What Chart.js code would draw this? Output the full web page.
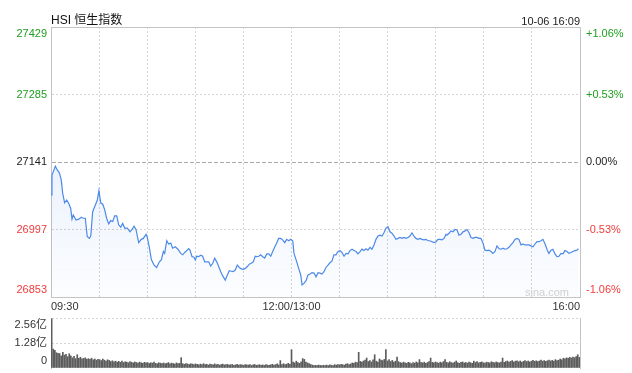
<!DOCTYPE html>
<html>
<head>
<meta charset="utf-8">
<script src="https://cdn.jsdelivr.net/npm/chart.js@4.4.0/dist/chart.umd.min.js"></script>
<style>
  body { margin: 0; background: #fff; }
  #wrap { position: relative; width: 632px; height: 373px; overflow: hidden; font-family: "Liberation Sans", "Noto Sans CJK SC", sans-serif; }
  #title { position: absolute; left: 51px; top: 12px; font-size: 12px; line-height: 16px; color: #111; }
  #stamp { position: absolute; right: 52px; top: 14px; font-size: 11px; line-height: 14px; color: #222; }
  #mark { position: absolute; right: 63px; top: 286px; font-size: 11px; line-height: 13px; color: #d0d0d0; }
  #main { position: absolute; left: 0; top: 0; }
  #vol { position: absolute; left: 0; top: 312px; }
</style>
</head>
<body>
<div id="wrap">
  <canvas id="main" width="632" height="312"></canvas>
  <canvas id="vol" width="632" height="61"></canvas>
  <div id="title">HSI 恒生指数</div>
  <div id="stamp">10-06 16:09</div>
  <div id="mark">sina.com</div>
</div>
<script>
// minutes since 09:30 (lunch break removed), index level
const minutes = [
  0, 0.6, 1.4, 2.7, 3.9, 5.2, 6.4, 7.3, 8.5, 9.8,
  11.0, 12.3, 13.1, 13.9, 15.6, 17.3, 18.9, 20.1, 21.4, 22.6,
  23.9, 24.8, 26.0, 27.3, 28.9, 29.9, 31.0, 32.3, 33.5, 34.7,
  36.0, 37.2, 38.5, 39.7, 41.0, 42.2, 43.5, 44.7, 46.0, 47.6,
  49.3, 50.5, 51.8, 53.0, 54.7, 56.3, 57.6, 59.3, 60.1, 61.3,
  62.6, 64.3, 65.9, 67.6, 68.8, 70.1, 70.9, 72.2, 73.4, 74.7,
  75.9, 77.5, 79.2, 80.9, 82.2, 83.4, 84.6, 85.9, 86.7, 88.0,
  89.2, 90.0, 90.9, 92.1, 93.4, 94.6, 95.9, 97.1, 98.4, 99.6,
  100.9, 102.1, 103.4, 104.6, 105.9, 107.1, 108.7, 110.0, 111.2, 112.5,
  113.7, 115.0, 116.2, 117.5, 118.7, 120.0, 121.2, 122.5, 123.7, 124.9,
  126.2, 127.4, 128.3, 129.6, 130.8, 132.1, 133.3, 134.6, 135.8, 137.1,
  138.3, 139.5, 140.8, 142.0, 143.3, 144.5, 145.8, 147.0, 148.3, 149.5,
  150.8, 151.6, 153.3, 154.5, 155.8, 156.6, 157.8, 159.1, 160.3, 161.6,
  162.8, 164.1, 165.3, 166.6, 167.8, 169.0, 170.3, 171.5, 172.8, 174.0,
  175.3, 176.5, 177.8, 179.0, 180.3, 181.5, 182.8, 184.0, 185.3, 186.5,
  187.8, 189.0, 190.3, 191.5, 192.8, 194.0, 195.2, 196.5, 197.7, 199.0,
  200.2, 201.5, 202.7, 204.0, 205.2, 206.5, 207.7, 209.0, 210.2, 211.5,
  212.7, 214.0, 215.2, 216.5, 217.7, 219.0, 220.2, 221.5, 222.7, 223.9,
  225.2, 226.4, 227.7, 228.9, 230.2, 231.4, 232.7, 233.9, 235.2, 236.4,
  237.7, 238.9, 240.2, 241.4, 242.7, 243.9, 245.2, 246.4, 247.0, 248.3,
  249.5, 250.8, 252.0, 253.3, 254.5, 255.8, 257.0, 258.3, 259.5, 260.8,
  262.0, 263.3, 264.5, 265.7, 267.0, 268.2, 269.5, 270.7, 272.0, 273.2,
  274.5, 275.7, 277.0, 278.2, 279.5, 280.7, 282.0, 283.2, 284.4, 285.7,
  286.9, 288.2, 289.4, 290.7, 291.9, 293.2, 294.4, 295.7, 296.9, 298.2,
  299.4, 300.7, 301.9, 303.2, 304.4, 305.7, 306.9, 308.2, 309.4, 310.6,
  311.9, 313.1, 314.4, 315.6, 316.9, 318.1, 319.4, 320.6, 321.9, 323.1,
  324.4, 325.6, 326.9, 328.1, 329.0
];
const prices = [
  27071, 27113, 27120, 27132, 27124, 27118, 27103, 27074, 27054, 27060,
  27053, 27042, 27019, 27028, 27017, 27019, 27023, 27021, 27021, 26982,
  26978, 26983, 27035, 27046, 27060, 27080, 27054, 27051, 27039, 27021,
  27009, 27016, 27014, 27026, 27026, 27007, 27002, 27010, 27000, 27000,
  26992, 26997, 27004, 26997, 26969, 26976, 26978, 26987, 26980, 26960,
  26933, 26921, 26916, 26928, 26932, 26950, 26946, 26973, 26966, 26968,
  26957, 26960, 26955, 26946, 26943, 26948, 26952, 26956, 26953, 26939,
  26938, 26932, 26940, 26939, 26942, 26940, 26928, 26928, 26928, 26919,
  26925, 26936, 26928, 26918, 26907, 26898, 26889, 26900, 26909, 26908,
  26907, 26911, 26921, 26916, 26913, 26912, 26914, 26918, 26923, 26925,
  26928, 26940, 26939, 26940, 26943, 26939, 26936, 26945, 26945, 26940,
  26950, 26959, 26968, 26978, 26978, 26975, 26969, 26976, 26973, 26976,
  26973, 26946, 26928, 26914, 26900, 26879, 26882, 26888, 26900, 26902,
  26905, 26904, 26896, 26905, 26904, 26902, 26907, 26916, 26921, 26926,
  26930, 26943, 26943, 26950, 26952, 26948, 26940, 26946, 26945, 26952,
  26955, 26952, 26950, 26945, 26950, 26955, 26952, 26956, 26953, 26959,
  26955, 26964, 26976, 26983, 26985, 26983, 26990, 27000, 27003, 26992,
  26989, 26983, 26976, 26978, 26980, 26978, 26980, 26978, 26980, 26983,
  26990, 26983, 26978, 26976, 26978, 26976, 26975, 26976, 26973, 26973,
  26971, 26969, 26971, 26976, 26976, 26975, 26978, 26987, 26985, 26989,
  26994, 26992, 26997, 26996, 26985, 26987, 26992, 26994, 26997, 26990,
  26980, 26978, 26980, 26980, 26978, 26978, 26968, 26953, 26952, 26953,
  26950, 26946, 26950, 26962, 26956, 26955, 26957, 26955, 26956, 26959,
  26964, 26969, 26976, 26978, 26976, 26964, 26966, 26964, 26964, 26964,
  26962, 26960, 26966, 26971, 26971, 26973, 26976, 26966, 26955, 26946,
  26953, 26955, 26945, 26939, 26940, 26946, 26945, 26952, 26950, 26946,
  26948, 26950, 26952, 26953, 26956
];
// per-minute turnover, in 亿 (index = minute)
const volumes = [
  2.52, 0.97, 0.90, 0.78, 0.75, 0.74, 0.62, 0.80, 0.66, 0.70,
  0.58, 0.73, 0.62, 0.52, 0.60, 0.48, 0.68, 0.50, 0.55, 0.47,
  0.49, 0.52, 0.45, 0.48, 0.44, 0.50, 0.42, 0.46, 0.40, 0.45,
  0.43, 0.38, 0.46, 0.40, 0.36, 0.42, 0.39, 0.33, 0.37, 0.31,
  0.35, 0.30, 0.34, 0.29, 0.36, 0.28, 0.32, 0.30, 0.27, 0.33,
  0.29, 0.26, 0.31, 0.28, 0.25, 0.30, 0.27, 0.24, 0.29, 0.26,
  0.28, 0.23, 0.27, 0.25, 0.30, 0.24, 0.22, 0.27, 0.25, 0.23,
  0.26, 0.22, 0.24, 0.28, 0.21, 0.25, 0.23, 0.20, 0.26, 0.22,
  0.24, 0.53, 0.22, 0.19, 0.23, 0.21, 0.18, 0.22, 0.20, 0.17,
  0.21, 0.19, 0.16, 0.20, 0.18, 0.22, 0.17, 0.19, 0.15, 0.20,
  0.18, 0.16, 0.21, 0.17, 0.19, 0.15, 0.18, 0.20, 0.16, 0.17,
  0.19, 0.15, 0.17, 0.18, 0.14, 0.16, 0.19, 0.15, 0.17, 0.16,
  0.14, 0.18, 0.16, 0.15, 0.17, 0.13, 0.16, 0.18, 0.14, 0.15,
  0.17, 0.14, 0.16, 0.13, 0.18, 0.15, 0.14, 0.16, 0.19, 0.15,
  0.17, 0.21, 0.16, 0.38, 0.18, 0.22, 0.17, 0.20, 0.24, 0.19,
  0.94,
  0.30, 0.26, 0.35, 0.28, 0.24, 0.31, 0.48, 0.44, 0.30, 0.26,
  0.22, 0.18, 0.15, 0.13, 0.14, 0.12, 0.15, 0.13, 0.12, 0.14,
  0.13, 0.15, 0.12, 0.16, 0.14, 0.13, 0.17, 0.15, 0.18, 0.16,
  0.19, 0.17, 0.15, 0.20, 0.22, 0.18, 0.21, 0.26, 0.24, 0.30,
  0.28, 0.80, 0.34, 0.30, 0.36, 0.40, 0.51, 0.33, 0.38, 0.31,
  0.42, 0.68, 0.35, 0.30, 0.46, 0.41, 0.38, 0.44, 0.94, 0.36,
  0.43, 0.33, 0.39, 0.30, 0.35, 0.56, 0.32, 0.28, 0.25, 0.30,
  0.27, 0.24, 0.29, 0.26, 0.22, 0.28, 0.25, 0.31, 0.27, 0.43,
  0.29, 0.26, 0.30, 0.24, 0.28, 0.33, 0.51, 0.29, 0.26, 0.31,
  0.28, 0.25, 0.30, 0.27, 0.33, 0.43, 0.29, 0.26, 0.32, 0.28,
  0.25, 0.30, 0.36, 0.27, 0.24, 0.29, 0.31, 0.26, 0.28, 0.25,
  0.30, 0.27, 0.24, 0.35, 0.28, 0.33, 0.26, 0.29, 0.31, 0.27,
  0.25, 0.30, 0.28, 0.26, 0.32, 0.29, 0.27, 0.31, 0.28, 0.26,
  0.30, 0.51, 0.29, 0.33, 0.36, 0.30, 0.34, 0.38, 0.31, 0.35,
  0.37, 0.32, 0.36, 0.30, 0.34, 0.38, 0.33, 0.36, 0.31, 0.35,
  0.39, 0.34, 0.37, 0.33, 0.36, 0.40, 0.35, 0.38, 0.34, 0.37,
  0.41, 0.36, 0.39, 0.35, 0.43, 0.38, 0.40, 0.46, 0.42, 0.50,
  0.47, 0.52, 0.49, 0.55, 0.51, 0.56, 0.53, 0.58, 0.68, 0.55
];

const prevClose = 27141;
const yTicks = [26853, 26997, 27141, 27285, 27429];
const pctLabels = ['-1.06%', '-0.53%', '0.00%', '+0.53%', '+1.06%'];
const timeTicks = [0, 150, 330];
const timeLabels = ['09:30', '12:00/13:00', '16:00'];
const volTicks = [0, 1.28, 2.56];
const volLabels = ['0', '1.28亿', '2.56亿'];

const FONT = '"Liberation Sans", "Noto Sans CJK SC", sans-serif';
const GRID = '#d4d4d4';
const EDGE = '#c4c4c4';
const UP = '#1f9e1f', DOWN = '#f03c3c', FLAT = '#222';

// top label sits below its line, bottom label above it
function edgeLabel(list, idx, text) {
  if (idx === list.length - 1) return ['', text];
  if (idx === 0) return [text, ''];
  return text;
}
function priceColor(c) {
  const v = c.tick ? c.tick.value : prevClose;
  return v > prevClose ? UP : v < prevClose ? DOWN : FLAT;
}
// fixed axis sizes, and no extra room asked for the edge labels
function fixWidth(w) {
  return (s) => { s.width = w; s.paddingTop = 0; s.paddingBottom = 0; };
}

new Chart(document.getElementById('main'), {
  type: 'line',
  data: {
    datasets: [{
      data: minutes.map((m, i) => ({ x: m, y: prices[i] })),
      borderColor: '#4d89e9',
      borderWidth: 1.2,
      pointRadius: 0,
      tension: 0,
      fill: 'start',
      backgroundColor: (c) => {
        const a = c.chart.chartArea;
        if (!a) return 'transparent';
        const g = c.chart.ctx.createLinearGradient(0, a.top, 0, a.bottom);
        g.addColorStop(0, 'rgba(77,137,233,0.20)');
        g.addColorStop(1, 'rgba(77,137,233,0.02)');
        return g;
      }
    }]
  },
  options: {
    responsive: false,
    animation: false,
    devicePixelRatio: 1,
    layout: { padding: { top: 27, left: 0, right: 0, bottom: 0 } },
    plugins: { legend: { display: false }, tooltip: { enabled: false } },
    scales: {
      x: {
        type: 'linear', min: 0, max: 330,
        afterBuildTicks: (s) => { s.ticks = [0, 30, 60, 90, 120, 150, 180, 210, 240, 270, 300, 330].map(v => ({ value: v })); },
        afterFit: (s) => { s.height = 15; s.paddingLeft = 0; s.paddingRight = 0; },
        grid: { color: GRID, drawTicks: false },
        border: { color: EDGE, dash: [2, 2] },
        ticks: {
          align: 'inner', autoSkip: false, maxRotation: 0, padding: 3,
          color: '#333', font: { family: FONT, size: 11 },
          callback: (v) => { const k = timeTicks.indexOf(v); return k < 0 ? '' : timeLabels[k]; }
        }
      },
      y: {
        min: yTicks[0], max: yTicks[yTicks.length - 1],
        afterBuildTicks: (s) => { s.ticks = yTicks.map(v => ({ value: v })); },
        afterFit: fixWidth(51),
        grid: {
          drawTicks: false,
          color: (c) => {
            const v = c.tick && c.tick.value;
            if (v === prevClose) return '#ababab';
            if (v === yTicks[yTicks.length - 1]) return EDGE;
            return GRID;
          }
        },
        border: {
          color: EDGE,
          dash: (c) => {
            const v = c.tick && c.tick.value;
            if (v === prevClose) return [4, 2];
            if (v === yTicks[yTicks.length - 1]) return [];
            return [2, 2];
          }
        },
        ticks: {
          autoSkip: false, padding: 4, color: priceColor, font: { family: FONT, size: 11 },
          callback: (v) => edgeLabel(yTicks, yTicks.indexOf(v), String(v))
        }
      },
      yr: {
        position: 'right',
        min: yTicks[0], max: yTicks[yTicks.length - 1],
        afterBuildTicks: (s) => { s.ticks = yTicks.map(v => ({ value: v })); },
        afterFit: fixWidth(52),
        grid: { drawOnChartArea: false, drawTicks: false },
        border: { color: EDGE },
        ticks: {
          autoSkip: false, padding: 6, color: priceColor, font: { family: FONT, size: 11 },
          callback: (v) => { const k = yTicks.indexOf(v); return edgeLabel(yTicks, k, pctLabels[k]); }
        }
      }
    }
  }
});

new Chart(document.getElementById('vol'), {
  type: 'bar',
  data: {
    datasets: [{
      data: volumes.map((v, i) => ({ x: i, y: v })),
      backgroundColor: '#5c5c5c',
      barThickness: 1
    }]
  },
  options: {
    responsive: false,
    animation: false,
    devicePixelRatio: 1,
    layout: { padding: { top: 6, bottom: 5, left: 0, right: 0 } },
    plugins: { legend: { display: false }, tooltip: { enabled: false } },
    scales: {
      x: { type: 'linear', min: -0.4, max: 330.4, offset: false, display: false },
      y: {
        min: 0, max: volTicks[volTicks.length - 1],
        afterBuildTicks: (s) => { s.ticks = volTicks.map(v => ({ value: v })); },
        afterFit: fixWidth(51),
        grid: { drawTicks: false, color: (c) => (c.tick && c.tick.value === 0 ? 'rgba(0,0,0,0)' : GRID) },
        border: { color: EDGE, dash: [2, 2] },
        ticks: {
          autoSkip: false, padding: 4, color: '#333', font: { family: FONT, size: 11 },
          callback: (v) => { const k = volTicks.indexOf(v); return edgeLabel(volTicks, k, volLabels[k]); }
        }
      },
      yr: {
        position: 'right', min: 0, max: volTicks[volTicks.length - 1],
        afterFit: fixWidth(52),
        grid: { display: false },
        border: { color: EDGE },
        ticks: { display: false }
      }
    }
  }
});
</script>
</body>
</html>
